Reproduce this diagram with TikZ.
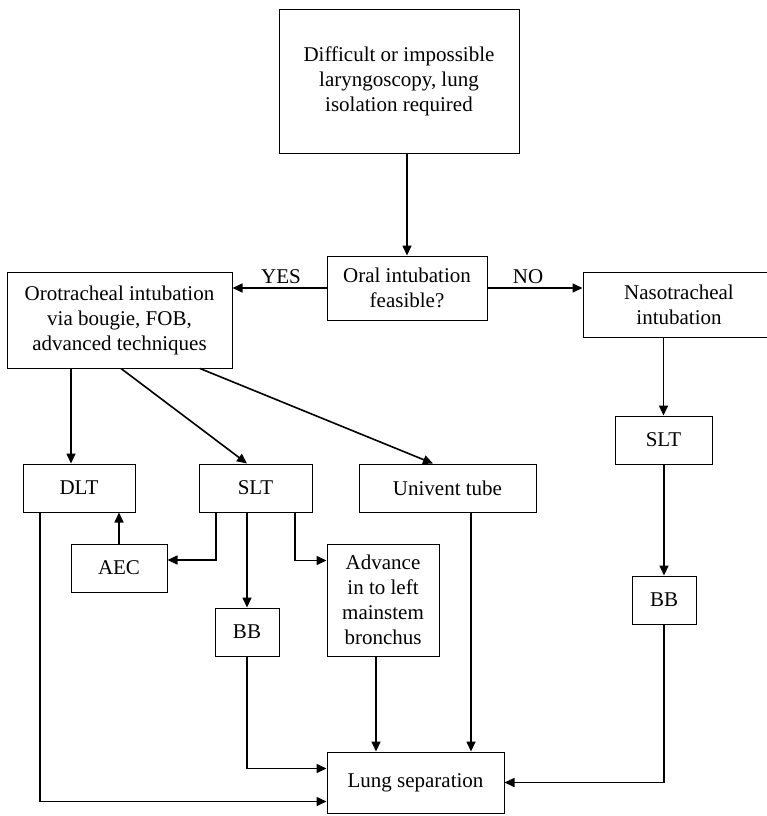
\documentclass[tikz,border=0pt]{standalone}
\usepackage{fontspec}
\setmainfont{Liberation Serif}
\usetikzlibrary{arrows.meta}
\tikzset{
  box/.style={draw, line width=1pt, inner sep=0pt, align=center, font=\fontsize{21}{25}\selectfont},
  lbl/.style={inner sep=0pt, font=\fontsize{21}{25}\selectfont},
  arr/.style={line width=1.6pt, -{Triangle[length=10pt,width=9pt]}},
}
\begin{document}
\begin{tikzpicture}[x=1pt,y=-1pt]
\useasboundingbox (0,0) rectangle (766,816);
\node[box, minimum width=240pt, minimum height=143pt] (top) at (399,81.5) {Difficult or impossible\\laryngoscopy, lung\\isolation required};
\node[box, minimum width=160pt, minimum height=64pt] (oral) at (407,288) {Oral intubation\\feasible?};
\node[box, minimum width=225pt, minimum height=96pt] (oro) at (119.5,320) {Orotracheal intubation\\via bougie, FOB,\\advanced techniques};
\node[box, minimum width=192pt, minimum height=65pt] (naso) at (679,304.5) {Nasotracheal\\intubation};
\node[box, minimum width=112pt, minimum height=48pt] (DLT) at (79,488) {DLT};
\node[box, minimum width=113pt, minimum height=48pt] (SLT) at (255.5,488) {SLT};
\node[box, minimum width=177pt, minimum height=48pt] (Uni) at (447.5,488) {Univent tube};
\node[box, minimum width=97pt, minimum height=48pt] (nslt) at (663.5,440) {SLT};
\node[box, minimum width=96pt, minimum height=48pt] (AEC) at (119,568) {AEC};
\node[box, minimum width=64pt, minimum height=48pt] (BB) at (247,632) {BB};
\node[box, minimum width=112pt, minimum height=112pt] (Adv) at (383,600) {Advance\\in to left\\mainstem\\bronchus};
\node[box, minimum width=64pt, minimum height=48pt] (nbb) at (664,600) {BB};
\node[box, minimum width=177pt, minimum height=61pt] (lung) at (415.5,782.5) {Lung separation};
\node[lbl] (yes) at (281,277) {YES};
\node[lbl] (no) at (528,277) {NO};

\draw[arr] (oral.north |- top.south) -- (oral.north);
\draw[arr] (oral.west) -- (oral.west -| oro.east);
\draw[arr] (oral.east) -- (oral.east -| naso.west);

\coordinate (dltin) at ([xshift=-8pt]DLT.north);
\draw[arr] (oro.south -| dltin) -- (dltin);
\draw[arr] ([xshift=1.5pt]oro.south) -- ([xshift=-8.5pt]SLT.north);
\draw[arr] ([xshift=80.5pt]oro.south) -- ([xshift=-14.5pt]Uni.north);

\draw[arr] (naso.south -| nslt.north) -- (nslt.north);
\draw[arr] (nslt.south -| nbb.north) -- (nbb.north);
\draw[arr] (nbb.south) |- (lung.east);

\draw[arr] ([xshift=-39pt]DLT.south) |- ([yshift=12pt]lung.south west);
\draw[arr] (AEC.north) -- (AEC.north |- DLT.south);
\draw[arr] ([xshift=-39.5pt]SLT.south) |- ([yshift=8pt]AEC.east);
\draw[arr] (SLT.south -| BB.north) -- (BB.north);
\draw[arr] ([xshift=39.5pt]SLT.south) |- ([yshift=-17pt]Adv.north west);
\draw[arr] (BB.south) |- ([yshift=-17pt]lung.north west);
\coordinate (advout) at ([xshift=-7pt]Adv.south);
\draw[arr] (advout) -- (advout |- lung.north);
\coordinate (uniout) at ([xshift=23.5pt]Uni.south);
\draw[arr] (uniout) -- (uniout |- lung.north);
\end{tikzpicture}
\end{document}
